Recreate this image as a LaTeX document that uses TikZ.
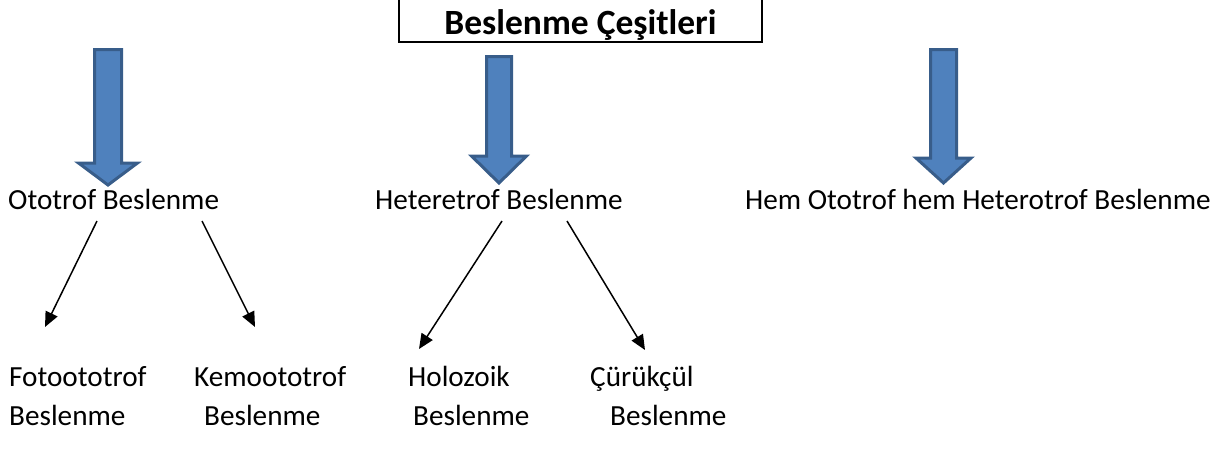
\documentclass[tikz,border=0pt]{standalone}
\usepackage{fontspec}
\setmainfont{Carlito}
\usetikzlibrary{arrows.meta,calc}
\definecolor{arrfill}{HTML}{4F81BD}
\definecolor{arrline}{HTML}{385D8A}
\begin{document}
\begin{tikzpicture}[x=1pt,y=1pt,
  lbl/.style={font=\fontsize{29.2}{33}\selectfont, inner sep=0pt, anchor=base west},
  ttl/.style={font=\fontsize{35.5}{40}\selectfont\bfseries, draw, line width=2pt,
    minimum width=363pt, inner ysep=0pt, text height=50pt, text depth=8pt, anchor=base},
  thinarrow/.style={line width=1.5pt, -{Triangle[length=15pt,width=13pt]}},
  bigarrow/.style={fill=arrfill, draw=arrline, line width=3pt, line join=miter}]
\useasboundingbox (0,0) rectangle (1226,-464);

% title
\node[ttl] (title) at (580.5,-34) {Beslenme Çeşitleri};

% big arrows
\coordinate (a1) at (108,0);
\coordinate (a2) at (499,0);
\coordinate (a3) at (943.5,0);
\draw[bigarrow] ($(a1)+(-13.5,-49.5)$) -- ($(a1)+(13.5,-49.5)$) -- ($(a1)+(13.5,-163)$)
  -- ($(a1)+(29.5,-163)$) -- ($(a1)+(0,-185)$) -- ($(a1)+(-29.5,-163)$)
  -- ($(a1)+(-13.5,-163)$) -- cycle;
\draw[bigarrow] ($(a2)+(-12.5,-56.5)$) -- ($(a2)+(12.5,-56.5)$) -- ($(a2)+(12.5,-156)$)
  -- ($(a2)+(27.5,-156)$) -- ($(a2)+(0,-183)$) -- ($(a2)+(-27.5,-156)$)
  -- ($(a2)+(-12.5,-156)$) -- cycle;
\draw[bigarrow] ($(a3)+(-13,-49.5)$) -- ($(a3)+(13,-49.5)$) -- ($(a3)+(13,-158)$)
  -- ($(a3)+(27.5,-158)$) -- ($(a3)+(0,-183)$) -- ($(a3)+(-27.5,-158)$)
  -- ($(a3)+(-13,-158)$) -- cycle;

% category labels
\node[lbl] (oto) at (8,-209) {Ototrof Beslenme};
\node[lbl] (het) at (375,-209) {Heteretrof Beslenme};
\node[lbl] (hem) at (745,-209) {Hem Ototrof hem Heterotrof Beslenme};

% sub labels
\node[lbl] (foto) at (9,-386) {Fotoototrof};
\node[lbl] (kemo) at (194,-386) {Kemoototrof};
\node[lbl] (holo) at (408,-386) {Holozoik};
\node[lbl] (curu) at (590,-386) {Çürükçül};
\node[lbl] (fotob) at (9,-425) {Beslenme};
\node[lbl] (kemob) at (204,-425) {Beslenme};
\node[lbl] (holob) at (413,-425) {Beslenme};
\node[lbl] (curub) at (610,-425) {Beslenme};

% small arrows
\draw[thinarrow] ($(oto.base west)+(89,-12)$) -- ($(foto.base west)+(36,59)$);
\draw[thinarrow] ($(oto.base west)+(194,-12)$) -- ($(kemo.base west)+(61,59)$);
\draw[thinarrow] ($(het.base west)+(127,-12)$) -- ($(holo.base west)+(11,37)$);
\draw[thinarrow] ($(het.base west)+(192,-12)$) -- ($(curu.base west)+(55,36)$);
\end{tikzpicture}
\end{document}
